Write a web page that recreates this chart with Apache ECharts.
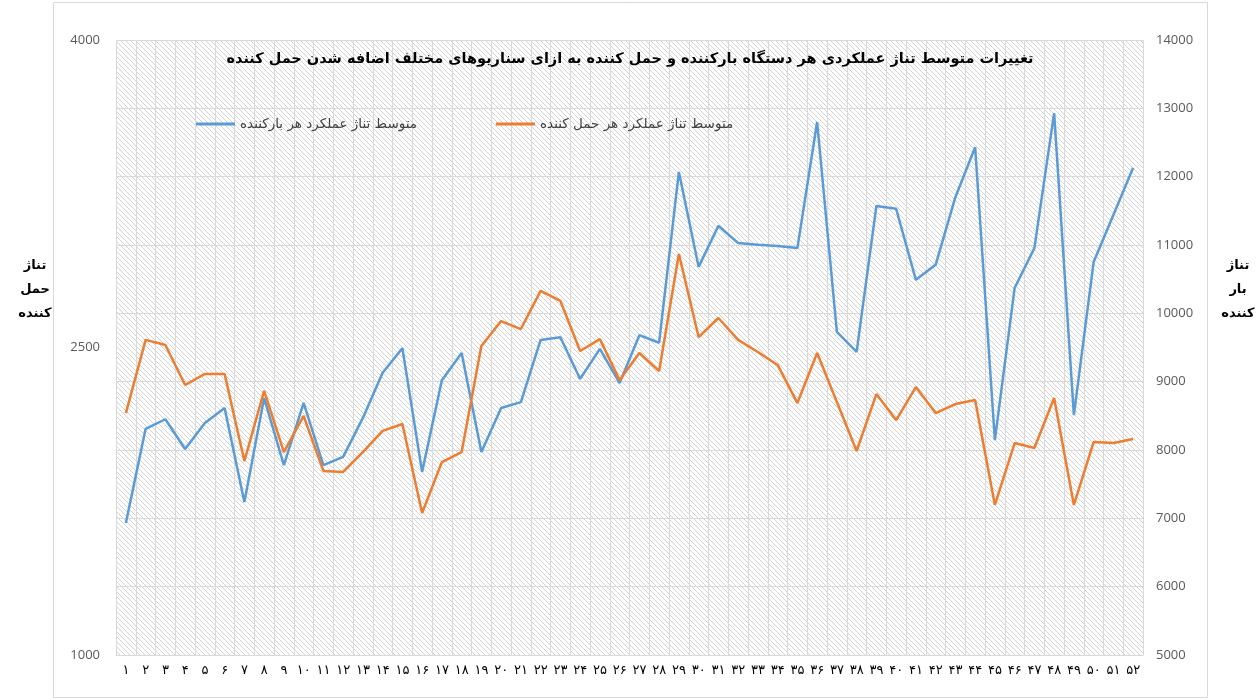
<!DOCTYPE html>
<html>
<head>
<meta charset="utf-8">
<script src="https://cdn.jsdelivr.net/npm/echarts@6/dist/echarts.min.js"></script>
<style>
  html, body { margin: 0; padding: 0; background: #fff; }
  #container { width: 1260px; height: 700px; }
</style>
</head>
<body>
<div id="container"></div>
<script>
var categories = ["۱", "۲", "۳", "۴", "۵", "۶", "۷", "۸", "۹", "۱۰", "۱۱", "۱۲", "۱۳", "۱۴", "۱۵", "۱۶", "۱۷", "۱۸", "۱۹", "۲۰",
    "۲۱", "۲۲", "۲۳", "۲۴", "۲۵", "۲۶", "۲۷", "۲۸", "۲۹", "۳۰", "۳۱", "۳۲", "۳۳", "۳۴", "۳۵", "۳۶", "۳۷", "۳۸", "۳۹", "۴۰",
    "۴۱", "۴۲", "۴۳", "۴۴", "۴۵", "۴۶", "۴۷", "۴۸", "۴۹", "۵۰", "۵۱", "۵۲"];

// right axis (loader)
var loaderValues = [6930, 8310, 8450, 8015, 8395, 8615, 7240, 8760, 7780, 8690,
    7780, 7900, 8470, 9130, 9490, 7680, 9020, 9420, 7970, 8615,
    8700, 9610, 9650, 9040, 9480, 8980, 9680, 9570, 12070, 10680,
    11280, 11030, 11005, 10985, 10955, 12800, 9730, 9435, 11570, 11530,
    10490, 10710, 11700, 12430, 8145, 10370, 10955, 12930, 8510, 10750,
    11440, 12130];

// left axis (hauler)
var haulerValues = [2180, 2537, 2512, 2317, 2371, 2371, 1946, 2288, 1990, 2166,
    1898, 1893, 1990, 2093, 2127, 1693, 1941, 1990, 2507, 2629,
    2590, 2776, 2727, 2483, 2541, 2341, 2473, 2385, 2956, 2551,
    2644, 2537, 2478, 2415, 2229, 2473, 2234, 1995, 2273, 2146,
    2307, 2180, 2224, 2244, 1732, 2034, 2010, 2254, 1732, 2039,
    2034, 2054];

var loaderName = "متوسط تناژ عملکرد هر بارکننده";
var haulerName = "متوسط تناژ عملکرد هر حمل کننده";
var chartTitle = "تغییرات متوسط تناژ عملکردی هر دستگاه بارکننده و حمل کننده به ازای سناریوهای مختلف اضافه شدن حمل کننده";
var leftAxisName = "تناژ\nحمل\nکننده";
var rightAxisName = "تناژ\nبار\nکننده";

var FONT = "'DejaVu Sans', 'Noto Sans', sans-serif";

function makeHatch() {
    var c = document.createElement("canvas");
    c.width = 5; c.height = 5;
    var ctx = c.getContext("2d");
    ctx.fillStyle = "#ffffff";
    ctx.fillRect(0, 0, 5, 5);
    ctx.strokeStyle = "#d3d3d3";
    ctx.lineWidth = 1;
    ctx.beginPath();
    ctx.moveTo(0, 0); ctx.lineTo(5, 5);
    ctx.moveTo(-1, 4); ctx.lineTo(1, 6);
    ctx.moveTo(4, -1); ctx.lineTo(6, 1);
    ctx.stroke();
    return c;
}

var dom = document.getElementById("container");
var myChart = echarts.init(dom);

var option = {
    animation: false,
    textStyle: { fontFamily: FONT },
    title: {
        text: chartTitle,
        left: "center",
        top: 47,
        textStyle: { fontSize: 14.5, fontWeight: "bold", color: "#000", fontFamily: FONT }
    },
    legend: {
        left: 196,
        top: 117,
        padding: 0,
        itemWidth: 39,
        itemHeight: 3,
        itemGap: 79,
        icon: "rect",
        textStyle: { fontSize: 13.5, color: "#404040", fontFamily: FONT },
        data: [loaderName, haulerName]
    },
    grid: {
        left: 116,
        right: 117,
        top: 40,
        bottom: 45,
        show: true,
        borderWidth: 0,
        backgroundColor: { image: makeHatch(), repeat: "repeat" }
    },
    xAxis: {
        type: "category",
        data: categories,
        boundaryGap: true,
        axisLine: { lineStyle: { color: "#d9d9d9", width: 1 } },
        axisTick: { show: false },
        axisLabel: { interval: 0, color: "#000", fontSize: 13, margin: 9, fontFamily: FONT },
        splitLine: { show: true, interval: 0, lineStyle: { color: "#d9d9d9", width: 1 } }
    },
    yAxis: [
        {
            type: "value",
            min: 1000,
            max: 4000,
            interval: 1500,
            position: "left",
            axisLine: { show: false },
            axisTick: { show: false },
            splitLine: { show: false },
            axisLabel: {
                color: "#595959", fontSize: 13, margin: 16, fontFamily: "'Open Sans', sans-serif",
                formatter: function (v) { return String(v); }
            }
        },
        {
            type: "value",
            min: 5000,
            max: 14000,
            interval: 1000,
            position: "right",
            axisLine: { show: false },
            axisTick: { show: false },
            splitLine: { show: true, lineStyle: { color: "#d9d9d9", width: 1 } },
            axisLabel: {
                color: "#595959", fontSize: 13, margin: 13, fontFamily: "'Open Sans', sans-serif",
                formatter: function (v) { return String(v); }
            }
        }
    ],
    graphic: [
        {
            type: "rect",
            shape: { x: 53.5, y: 2.5, width: 1154, height: 695 },
            style: { fill: "none", stroke: "#d9d9d9", lineWidth: 1 },
            silent: true
        },
        {
            type: "text",
            x: 35,
            y: 254,
            style: {
                text: leftAxisName,
                align: "center",
                verticalAlign: "top",
                lineHeight: 24,
                fill: "#000",
                font: "bold 13px " + FONT
            }
        },
        {
            type: "text",
            x: 1238,
            y: 254,
            style: {
                text: rightAxisName,
                align: "center",
                verticalAlign: "top",
                lineHeight: 24,
                fill: "#000",
                font: "bold 13px " + FONT
            }
        }
    ],
    series: [
        {
            name: loaderName,
            type: "line",
            yAxisIndex: 1,
            data: loaderValues,
            symbol: "none",
            lineStyle: { color: "#5B9BD5", width: 2.5 },
            itemStyle: { color: "#5B9BD5" }
        },
        {
            name: haulerName,
            type: "line",
            yAxisIndex: 0,
            data: haulerValues,
            symbol: "none",
            lineStyle: { color: "#ED7D31", width: 2.5 },
            itemStyle: { color: "#ED7D31" }
        }
    ]
};

myChart.setOption(option);
</script>
</body>
</html>
